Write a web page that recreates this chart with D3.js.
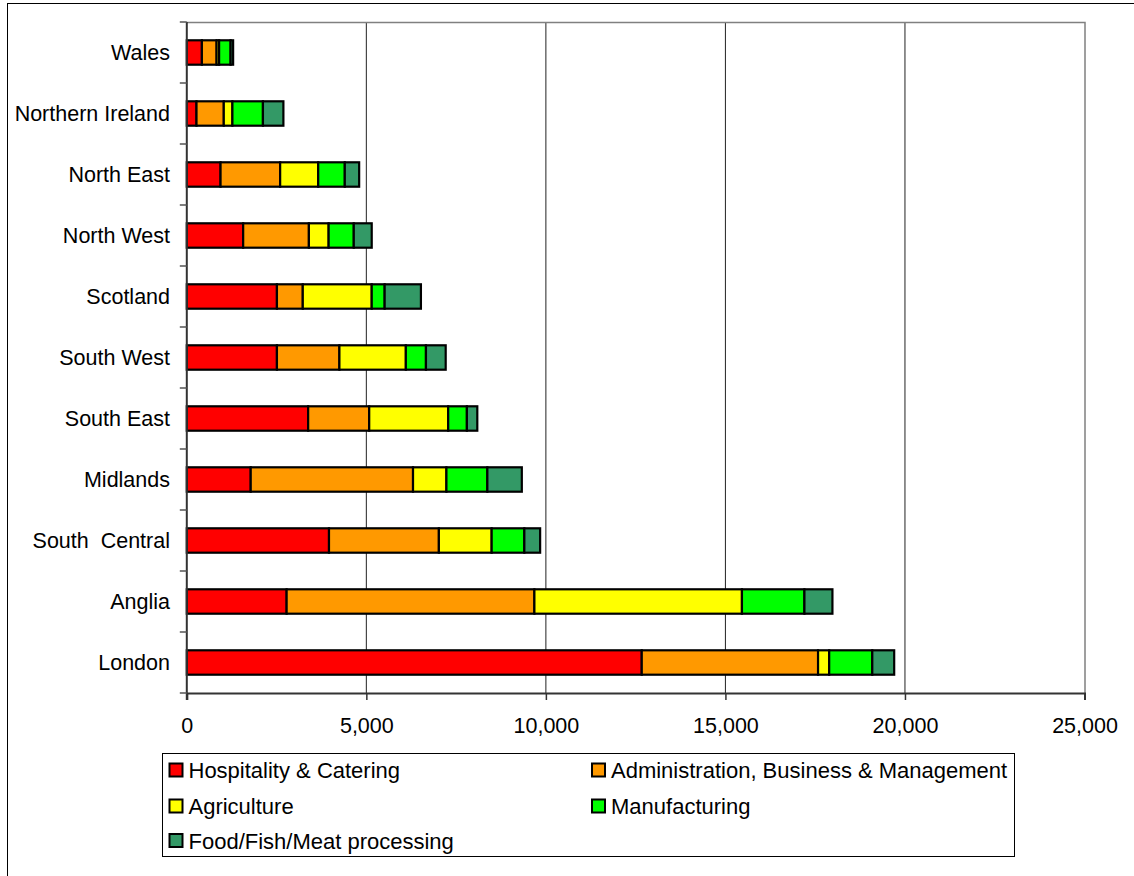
<!DOCTYPE html>
<html>
<head>
<meta charset="utf-8">
<script src="https://cdn.jsdelivr.net/npm/d3@7"></script>
<style>
  body { margin: 0; background: #fff; }
  text { font-family: "Liberation Sans", Arial, sans-serif; fill: #000; white-space: pre; }
</style>
</head>
<body>
<svg id="chart" width="1134" height="876"></svg>
<script>
// Region categories, top to bottom as drawn
var regions = ["Wales", "Northern Ireland", "North East", "North West", "Scotland",
               "South West", "South East", "Midlands", "South  Central", "Anglia", "London"];

// Series values
var hospitality   = [420, 270, 940, 1570, 2510, 2510, 3380, 1780, 3960, 2780, 12670];
var admin         = [410, 760, 1660, 1830, 720, 1740, 1700, 4520, 3060, 6900, 4910];
var agriculture   = [70, 240, 1060, 550, 1920, 1850, 2200, 930, 1470, 5780, 310];
var manufacturing = [320, 850, 740, 700, 360, 560, 520, 1140, 910, 1740, 1200];
var food          = [70, 570, 400, 500, 1010, 550, 290, 960, 440, 780, 610];

var seriesNames = ["Hospitality & Catering", "Administration, Business & Management",
                   "Agriculture", "Manufacturing", "Food/Fish/Meat processing"];
var seriesKeys = ["hosp", "admin", "agri", "manu", "food"];
var colours = ["#FF0000", "#FF9900", "#FFFF00", "#00FF00", "#339966"];

var xTicks = [0, 5000, 10000, 15000, 20000, 25000];

// build the table for d3.stack
var table = regions.map(function(r, i) {
	return { region: r, hosp: hospitality[i], admin: admin[i], agri: agriculture[i],
	         manu: manufacturing[i], food: food[i] };
});

function drawChart() {
	var svg = d3.select("#chart");

	// outer chart border
	svg.append("rect")
		.attr("x", 7.5).attr("y", 3.5)
		.attr("width", 1200).attr("height", 1000)
		.attr("fill", "none").attr("stroke", "#000").attr("stroke-width", 1);

	var plotL = 186.8, plotR = 1084.5, plotT = 22, plotB = 693;

	var x = d3.scaleLinear().domain([0, 25000]).range([plotL, plotR]);
	var y = d3.scaleBand().domain(regions).range([plotT, plotB]).padding(0);

	// gridlines
	svg.append("g").selectAll("line")
		.data(xTicks.slice(1, -1))
		.enter().append("line")
		.attr("x1", function(d) { return x(d); }).attr("x2", function(d) { return x(d); })
		.attr("y1", plotT).attr("y2", plotB)
		.attr("stroke", "#222").attr("stroke-width", 1);

	// plot area border (top and right, grey)
	svg.append("path")
		.attr("d", "M" + plotL + "," + (plotT + 0.5) + "H" + (plotR + 0.5) + "V" + plotB)
		.attr("fill", "none").attr("stroke", "#808080").attr("stroke-width", 1.5);

	// stacked bars
	var layers = d3.stack().keys(seriesKeys)(table);
	var barH = y.bandwidth() * 0.4;

	svg.append("g").selectAll("g")
		.data(layers)
		.enter().append("g")
		.attr("fill", function(d, i) { return colours[i]; })
		.selectAll("rect")
		.data(function(d) { return d; })
		.enter().append("rect")
		.attr("x", function(d) { return x(d[0]); })
		.attr("width", function(d) { return x(d[1]) - x(d[0]); })
		.attr("y", function(d) { return y(d.data.region) + (y.bandwidth() - barH) / 2; })
		.attr("height", barH)
		.attr("stroke", "#000").attr("stroke-width", 2.2);

	// x axis
	var xAxis = d3.axisBottom(x).tickValues(xTicks).tickSize(7)
		.tickFormat(d3.format(","));
	var gx = svg.append("g").attr("transform", "translate(0," + plotB + ")").call(xAxis);
	gx.select(".domain").attr("stroke", "#333").attr("stroke-width", 2);
	gx.selectAll(".tick line").attr("stroke", "#333").attr("stroke-width", 1.5);
	gx.selectAll(".tick text")
		.attr("y", 40).attr("dy", 0)
		.style("font-size", "21.5px")
		.style("font-family", "'Liberation Sans', Arial, sans-serif");

	// y axis: line, boundary ticks, labels
	svg.append("line")
		.attr("x1", plotL).attr("x2", plotL).attr("y1", plotT).attr("y2", plotB + 7)
		.attr("stroke", "#333").attr("stroke-width", 2);

	var bounds = regions.map(function(r) { return y(r); }).concat([plotB]);
	svg.append("g").selectAll("line")
		.data(bounds)
		.enter().append("line")
		.attr("x1", plotL - 7).attr("x2", plotL)
		.attr("y1", function(d) { return d; }).attr("y2", function(d) { return d; })
		.attr("stroke", "#555").attr("stroke-width", 1.5);

	svg.append("g").selectAll("text")
		.data(regions)
		.enter().append("text")
		.attr("x", 170)
		.attr("y", function(d) { return y(d) + y.bandwidth() / 2 + 7.5; })
		.attr("text-anchor", "end")
		.style("font-size", "21.5px")
		.text(function(d) { return d; });

	// legend
	var legend = svg.append("g");
	legend.append("rect")
		.attr("x", 162.5).attr("y", 753.5).attr("width", 852).attr("height", 103)
		.attr("fill", "#fff").attr("stroke", "#000").attr("stroke-width", 1);

	var legX = [169.5, 592], legY = [763.5, 799.5, 834];
	var items = legend.selectAll("g.item")
		.data(seriesNames)
		.enter().append("g")
		.attr("class", "item")
		.attr("transform", function(d, i) {
			return "translate(" + legX[i % 2] + "," + legY[Math.floor(i / 2)] + ")";
		});
	items.append("rect")
		.attr("width", 13).attr("height", 13)
		.attr("fill", function(d, i) { return colours[i]; })
		.attr("stroke", "#000").attr("stroke-width", 2);
	items.append("text")
		.attr("x", 19).attr("y", 14.5)
		.style("font-size", "22px")
		.text(function(d) { return d; });
}

drawChart();
</script>
</body>
</html>
